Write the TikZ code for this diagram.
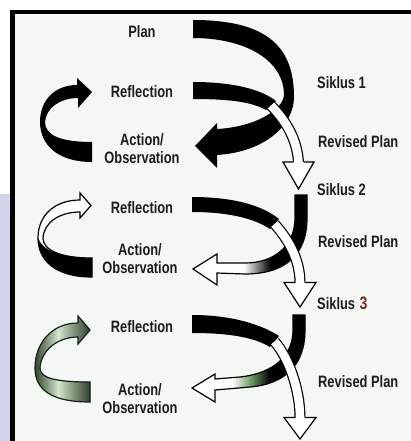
\documentclass[tikz,border=0pt]{standalone}
\usepackage{fontspec}
\setmainfont{Liberation Sans}
\usepackage{graphicx}
\newcommand\sx[1]{\scalebox{0.78}[1]{#1}}
\definecolor{bg}{HTML}{F4F7F3}
\definecolor{lav}{HTML}{D2D4EA}
\definecolor{ink}{HTML}{1C1C1C}
\definecolor{hand}{HTML}{7A2E1E}
\definecolor{gmid}{HTML}{6F9C63}
\definecolor{gdark}{HTML}{142414}
\definecolor{glight}{HTML}{D4E6CC}
\def\leftB{(92,277) .. controls (55,277) and (38,260) .. (38,238) .. controls (38,215) and (55,200) .. (80,200) -- (80,193) -- (91,205.5) -- (80,218) -- (80,212) .. controls (60,212) and (44,222) .. (43,238) .. controls (43,250) and (60,258) .. (92,258) -- cycle}
\def\leftC{(90,402) .. controls (52,402) and (35,390) .. (35,368) .. controls (35,343) and (52,323) .. (78,323) -- (78,316) -- (90,330) -- (78,344) -- (78,337) .. controls (58,337) and (41,350) .. (40,368) .. controls (40,378) and (55,382) .. (90,382) -- cycle}
\def\mainB{(307,195) -- (307,218) .. controls (307,255) and (285,274) .. (245,274) -- (217,273) -- (217,285) -- (193,269) -- (217,254) -- (217,263) -- (245,263) .. controls (275,263) and (295,245) .. (295,218) -- (295,195) -- cycle}
\def\mainC{(305,315) -- (305,330) .. controls (305,365) and (285,384) .. (250,387) -- (215,390) -- (215,402) -- (192,388) -- (215,374) -- (215,379) -- (240,377) .. controls (275,373) and (293,355) .. (293,330) -- (293,315) -- cycle}
\begin{document}
\begin{tikzpicture}[x=1pt,y=-1pt,
  lbl/.style={font=\bfseries\fontsize{16.5}{18}\selectfont, text=ink, inner sep=0pt, align=center},
  shaft/.style={double=white, double distance=8.6pt, line width=1.2pt, draw=black},
  hedge/.style={draw=black, line width=1.2pt, line join=miter}]
\useasboundingbox (0,0) rectangle (411,441);
\fill[white] (0,0) rectangle (411,441);
\fill[lav] (0,194) rectangle (10,441);
\fill[bg] (10,10) rectangle (411,441);
\fill[black] (10,10) rectangle (411,14);
\fill[black] (10,10) rectangle (15,441);

% ---------- labels ----------
\node[lbl] (plan) at (142,32) {\sx{Plan}};
\node[lbl] (ref1) at (142,92) {\sx{Reflection}};
\node[lbl] (ao1) at (142,149) {\sx{Action/}\\\sx{Observation}};
\node[lbl, anchor=west] (s1) at (317,83) {\sx{Siklus 1}};
\node[lbl, anchor=west] (rp1) at (318,142) {\sx{Revised Plan}};
\node[lbl, anchor=west] (s2) at (317,190) {\sx{Siklus 2}};
\node[lbl] (ref2) at (142,208) {\sx{Reflection}};
\node[lbl] (ao2) at (140,259) {\sx{Action/}\\\sx{Observation}};
\node[lbl, anchor=west] (rp2) at (318,242) {\sx{Revised Plan}};
\node[lbl, anchor=west] (s3) at (317,303) {\sx{Siklus} {\color{hand}\fontsize{18}{18}\selectfont\sx{3}}};
\node[lbl] (ref3) at (142,327) {\sx{Reflection}};
\node[lbl] (ao3) at (140,399) {\sx{Action/}\\\sx{Observation}};
\node[lbl, anchor=west] (rp3) at (318,382) {\sx{Revised Plan}};

% ---------- cycle 1 ----------
\fill[black] (193,20) .. controls (265,20) and (294,45) .. (294,97) .. controls (294,125) and (265,152) .. (217,155) -- (217,168) -- (195,146) -- (217,123) -- (217,129) .. controls (255,127) and (283,110) .. (284,95) .. controls (284,60) and (245,38) .. (193,38) -- cycle;
\fill[black] (92,162) .. controls (58,162) and (40,145) .. (40,122) .. controls (40,100) and (55,85) .. (77,85) -- (77,78) -- (92,92) -- (78,108) -- (78,98) .. controls (60,98) and (46,108) .. (45,122) .. controls (45,135) and (60,142) .. (92,142) -- cycle;
\fill[black] (193,82) .. controls (235,82) and (262,90) .. (276,101) -- (266,110) .. controls (252,102) and (230,99) .. (193,99) -- cycle;
\draw[shaft] (271,105.5) .. controls (285,120) and (297,138) .. (298.5,162.5);
\fill[white] (283,162) -- (298.5,189) -- (314,162) -- cycle;
\draw[hedge] (293,162) -- (283,162) -- (298.5,189) -- (314,162) -- (304,162);

% ---------- cycle 2 ----------
\fill[white] \leftB;
\fill[black] (92,277) .. controls (55,277) and (38,260) .. (38,238) .. controls (42,250) and (60,258) .. (92,258) -- cycle;
\draw[black, line width=1.2pt, line join=miter] \leftB;

\fill[white] \mainB;
\begin{scope}
  \clip \mainB;
  \fill[left color=white, right color=black] (244,190) rectangle (271,290);
  \fill[black] (270.5,190) rectangle (312,290);
\end{scope}
\draw[black, line width=1.2pt, line join=miter] \mainB;
\fill[black] (192,197) .. controls (235,197) and (263,206) .. (279,219) -- (270,229) .. controls (255,219) and (230,212) .. (192,212) -- cycle;
\draw[shaft] (274.5,224) .. controls (289,240) and (300,260) .. (300,283);
\fill[white] (284,282.5) -- (300,307) -- (316,282.5) -- cycle;
\draw[hedge] (295,282.5) -- (284,282.5) -- (300,307) -- (316,282.5) -- (305,282.5);

% ---------- cycle 3 ----------
\fill[white] \leftC;
\begin{scope}
  \clip \leftC;
  \fill[left color=gdark, right color=glight] (30,310) rectangle (58.5,410);
  \fill[left color=glight, right color=gdark] (58,310) rectangle (95,410);
\end{scope}
\draw[gdark, line width=1.2pt, line join=miter] \leftC;

\fill[white] \mainC;
\begin{scope}
  \clip \mainC;
  \fill[left color=white, right color=gmid] (232,305) rectangle (251,410);
  \fill[left color=gmid, right color=black] (250.5,305) rectangle (270,410);
  \fill[black] (269.5,305) rectangle (312,410);
\end{scope}
\draw[black, line width=1.2pt, line join=miter] \mainC;
\fill[black] (192,315) .. controls (233,315) and (262,325) .. (279,336) -- (270,347) .. controls (255,338) and (232,333) .. (192,333) -- cycle;
\draw[shaft] (274.5,341.5) .. controls (289,358) and (300,390) .. (300,418);
\fill[white] (284,417.5) -- (300,439) -- (316,417.5) -- cycle;
\draw[hedge] (295,417.5) -- (284,417.5) -- (300,439) -- (316,417.5) -- (305,417.5);
\end{tikzpicture}
\end{document}
